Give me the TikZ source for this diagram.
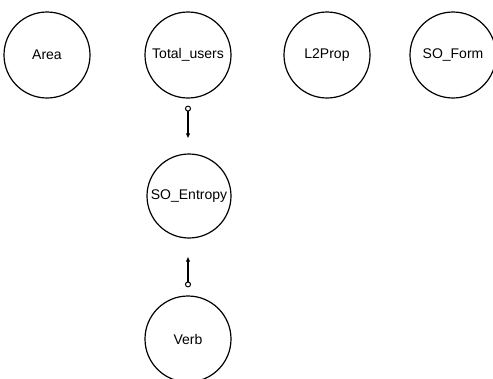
\documentclass[tikz,border=0pt]{standalone}
\usepackage{fontspec}
\setmainfont{Liberation Sans}
\usetikzlibrary{arrows.meta}
\begin{document}
\begin{tikzpicture}[x=1pt,y=-1pt,
  var/.style={circle,draw,line width=1.2pt,minimum size=86pt,inner sep=0pt,font=\fontsize{14}{16}\selectfont},
  link/.style={line width=1.2pt,{Circle[open,length=6pt,width=6pt,line width=1pt]}-{Latex[length=5pt,width=4.5pt]}}]
\useasboundingbox (0,0) rectangle (493,378);
\node[var] (area) at (47,55) {Area};
\node[var] (total) at (188,55) {Total\_users};
\node[var] (l2) at (327,55) {L2Prop};
\node[var] (soform) at (453,55) {SO\_Form};
\node[var,minimum size=84pt] (entropy) at (189,196) {SO\_Entropy};
\node[var] (verb) at (188,339) {Verb};
\draw[link,shorten <=7pt,shorten >=15pt] (total.south) -- (total.south |- entropy.north);
\draw[link,shorten <=8pt,shorten >=18pt] (verb.north) -- (verb.north |- entropy.south);
\end{tikzpicture}
\end{document}
